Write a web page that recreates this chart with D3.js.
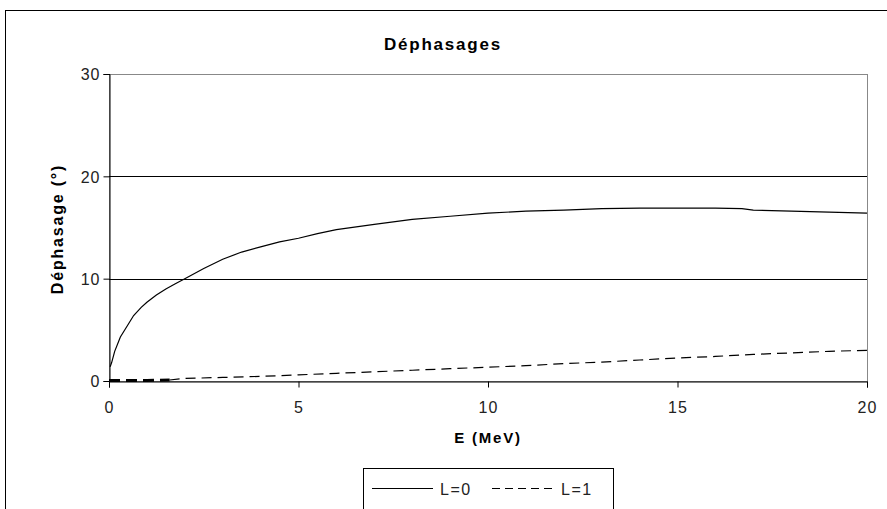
<!DOCTYPE html>
<html>
<head>
<meta charset="utf-8">
<script src="https://cdn.jsdelivr.net/npm/d3@7"></script>
<style>
  body { margin: 0; background: #fff; }
  text { font-family: "Liberation Sans", Arial, sans-serif; }
</style>
</head>
<body>
<div class="chart"></div>
<script>

// L=0 phase shift (deg) vs energy (MeV)
var energyL0 = [0.03, 0.07, 0.15, 0.3, 0.5, 0.65, 0.85, 1.0, 1.25, 1.5, 1.75, 2.0, 2.5, 3.0, 3.5, 4.0, 4.5, 5.0, 5.5, 6.0, 7.0, 8.0, 9.0, 10, 11, 12, 13, 14, 15, 16, 16.7, 17, 18, 19, 20];
var phaseL0  = [1.4, 1.8, 2.9, 4.3, 5.5, 6.4, 7.2, 7.7, 8.4, 9.0, 9.5, 10.0, 11.0, 11.9, 12.6, 13.1, 13.6, 13.95, 14.4, 14.8, 15.3, 15.8, 16.1, 16.4, 16.6, 16.7, 16.85, 16.9, 16.9, 16.9, 16.85, 16.7, 16.6, 16.5, 16.4];

// L=1
var energyL1 = [0, 0.5, 1.0, 1.6, 2, 3, 4, 5, 6, 7, 8, 9, 10, 11, 12, 13, 14, 15, 16, 17, 18, 19, 20];
var phaseL1  = [0.05, 0.05, 0.05, 0.1, 0.25, 0.35, 0.45, 0.6, 0.75, 0.9, 1.05, 1.2, 1.35, 1.5, 1.7, 1.85, 2.05, 2.25, 2.4, 2.6, 2.75, 2.9, 3.0];

var xTicks = [0, 5, 10, 15, 20];
var yTicks = [0, 10, 20, 30];
var seriesNames = ["L=0", "L=1"];

var width = 887, height = 509;
var plot = {left: 109, right: 867, top: 74, bottom: 381};

var svg = d3.select(".chart")
  .append("svg")
    .attr("width", width)
    .attr("height", height);

svg.append("rect")
  .attr("width", width)
  .attr("height", height)
  .attr("fill", "#fff");

// outer chart frame (cut off on the right and bottom)
svg.append("rect")
  .attr("x", 5.5)
  .attr("y", 10.5)
  .attr("width", 900)
  .attr("height", 520)
  .attr("fill", "none")
  .attr("stroke", "#000")
  .attr("stroke-width", 1);

var x = d3.scaleLinear().domain([0, 20]).range([plot.left, plot.right]);
var y = d3.scaleLinear().domain([0, 30]).range([plot.bottom, plot.top]);

// plot area border (grey)
svg.append("rect")
  .attr("x", plot.left + 0.5)
  .attr("y", plot.top + 0.5)
  .attr("width", plot.right - plot.left)
  .attr("height", plot.bottom - plot.top)
  .attr("fill", "none")
  .attr("stroke", "#888");

// gridlines
svg.selectAll(".grid")
  .data(yTicks.filter(function(d) { return d > 0 && d < 30; }))
  .enter().append("line")
    .attr("x1", plot.left)
    .attr("x2", plot.right)
    .attr("y1", function(d) { return Math.round(y(d)) + 0.5; })
    .attr("y2", function(d) { return Math.round(y(d)) + 0.5; })
    .style("stroke", "#000");

// axes
var xAxis = svg.append("g")
  .attr("transform", "translate(0," + (plot.bottom + 0.5) + ")")
  .call(d3.axisBottom(x).tickValues(xTicks).tickSize(6).tickPadding(14).tickFormat(d3.format("d")));

var yAxis = svg.append("g")
  .attr("transform", "translate(" + (plot.left + 0.5) + ",0)")
  .call(d3.axisLeft(y).tickValues(yTicks).tickSize(6).tickPadding(3).tickFormat(d3.format("d")));

[xAxis, yAxis].forEach(function(a) {
  a.select(".domain").attr("stroke", "#000");
  a.selectAll("line").attr("stroke", "#000");
  a.selectAll("text")
    .style("font-size", "16px")
    .style("letter-spacing", "1px")
    .attr("fill", "#222");
});
yAxis.selectAll("text").attr("dy", "0.36em");

var line = d3.line()
  .x(function(d) { return x(d[0]); })
  .y(function(d) { return y(d[1]); });

var dataL0 = energyL0.map(function(e, i) { return [e, phaseL0[i]]; });
var dataL1 = energyL1.map(function(e, i) { return [e, phaseL1[i]]; });

svg.append("path")
  .datum(dataL0)
  .attr("d", line)
  .style("fill", "none")
  .style("stroke", "#000")
  .style("stroke-width", 1.2);

// dense low-energy points look like a thick dash on the axis
svg.append("path")
  .datum(dataL1.filter(function(d) { return d[0] <= 1.6; }))
  .attr("d", line)
  .style("fill", "none")
  .style("stroke", "#000")
  .style("stroke-width", 3)
  .style("stroke-dasharray", "11,6");

svg.append("path")
  .datum(dataL1.filter(function(d) { return d[0] >= 1.6; }))
  .attr("d", line)
  .style("fill", "none")
  .style("stroke", "#000")
  .style("stroke-width", 1.2)
  .style("stroke-dasharray", "10,6");

// titles
svg.append("text")
  .attr("x", 443)
  .attr("y", 50)
  .attr("text-anchor", "middle")
  .style("font-size", "17px")
  .style("font-weight", "bold")
  .style("letter-spacing", "1.8px")
  .text("Déphasages");

svg.append("text")
  .attr("x", 488)
  .attr("y", 443)
  .attr("text-anchor", "middle")
  .style("font-size", "15px")
  .style("font-weight", "bold")
  .style("letter-spacing", "1.8px")
  .text("E (MeV)");

svg.append("text")
  .attr("transform", "translate(63,229) rotate(-90)")
  .attr("text-anchor", "middle")
  .style("font-size", "16px")
  .style("font-weight", "bold")
  .style("letter-spacing", "1.8px")
  .text("Déphasage (°)");

// legend
var legend = svg.append("g");
legend.append("rect")
  .attr("x", 363.5)
  .attr("y", 468.5)
  .attr("width", 250)
  .attr("height", 60)
  .attr("fill", "#fff")
  .attr("stroke", "#000");

var legendItems = [
  {name: seriesNames[0], x1: 372, x2: 433, tx: 440, dash: null},
  {name: seriesNames[1], x1: 492, x2: 553, tx: 561, dash: "8,5"}
];

legend.selectAll(".key")
  .data(legendItems)
  .enter().append("line")
    .attr("x1", function(d) { return d.x1; })
    .attr("x2", function(d) { return d.x2; })
    .attr("y1", 488.5)
    .attr("y2", 488.5)
    .style("stroke", "#000")
    .style("stroke-dasharray", function(d) { return d.dash; });

legend.selectAll(".label")
  .data(legendItems)
  .enter().append("text")
    .attr("x", function(d) { return d.tx; })
    .attr("y", 495)
    .style("font-size", "16px")
    .style("letter-spacing", "1.5px")
    .attr("fill", "#222")
    .text(function(d) { return d.name; });

</script>
</body>
</html>
